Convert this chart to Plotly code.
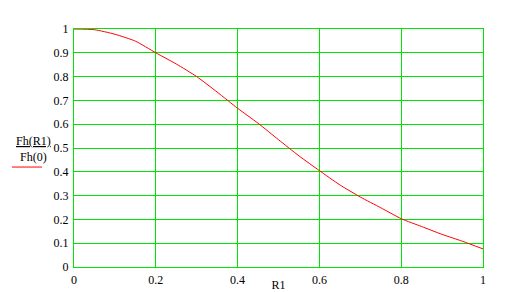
import plotly.graph_objects as go

r1 = [0.0, 0.05, 0.10, 0.15, 0.20, 0.25, 0.30, 0.35, 0.40, 0.45, 0.50,
      0.55, 0.60, 0.65, 0.70, 0.75, 0.80, 0.85, 0.90, 0.95, 1.0]
ratio = [1.0, 0.997, 0.978, 0.949, 0.900, 0.853, 0.800, 0.735, 0.667, 0.604, 0.535,
         0.467, 0.405, 0.345, 0.294, 0.249, 0.203, 0.170, 0.137, 0.108, 0.076]
x_ticks = [0, 0.2, 0.4, 0.6, 0.8, 1]
x_ticktext = ["0", "0.2", "0.4", "0.6", "0.8", "1"]
y_ticks = [0, 0.1, 0.2, 0.3, 0.4, 0.5, 0.6, 0.7, 0.8, 0.9, 1]
y_ticktext = ["0", "0.1", "0.2", "0.3", "0.4", "0.5", "0.6", "0.7", "0.8", "0.9", "1"]

GREEN = "#00e600"
FONT = "Liberation Serif"

fig = go.Figure()
fig.add_trace(go.Scatter(x=r1, y=ratio, mode="lines", name="",
                         line=dict(color="#ff0000", width=1, shape="spline", smoothing=0.6),
                         showlegend=True))

fig.update_layout(
    width=507, height=292,
    margin=dict(l=74, r=23.5, t=28.5, b=25.3, autoexpand=False),
    paper_bgcolor="white", plot_bgcolor="white",
    font=dict(family=FONT, size=12, color="black"),
    showlegend=True,
    legend=dict(x=-0.164, y=0.42, xanchor="left", yanchor="middle",
                bgcolor="rgba(0,0,0,0)", borderwidth=0, itemwidth=30,
                font=dict(size=1)),
    xaxis=dict(range=[0, 1], tickvals=x_ticks, ticktext=x_ticktext,
               showgrid=True, gridcolor=GREEN, gridwidth=1,
               showline=True, linecolor=GREEN, linewidth=1, mirror=True,
               zeroline=False, ticks="", ticklabelstandoff=2,
               title=dict(text="R1", standoff=5, font=dict(size=12)),
               automargin=False, fixedrange=True),
    yaxis=dict(range=[0, 1], tickvals=y_ticks, ticktext=y_ticktext,
               showgrid=True, gridcolor=GREEN, gridwidth=1,
               showline=True, linecolor=GREEN, linewidth=1, mirror=True,
               zeroline=False, ticks="", ticklabelstandoff=2,
               automargin=False, fixedrange=True),
    annotations=[dict(text="<u>Fh(R1)</u><br>Fh(0)", xref="paper", yref="paper",
                      x=-0.098, y=0.497, xanchor="center", yanchor="middle",
                      showarrow=False, align="center",
                      font=dict(family=FONT, size=12, color="black"))],
)

fig.write_html("out.html")
